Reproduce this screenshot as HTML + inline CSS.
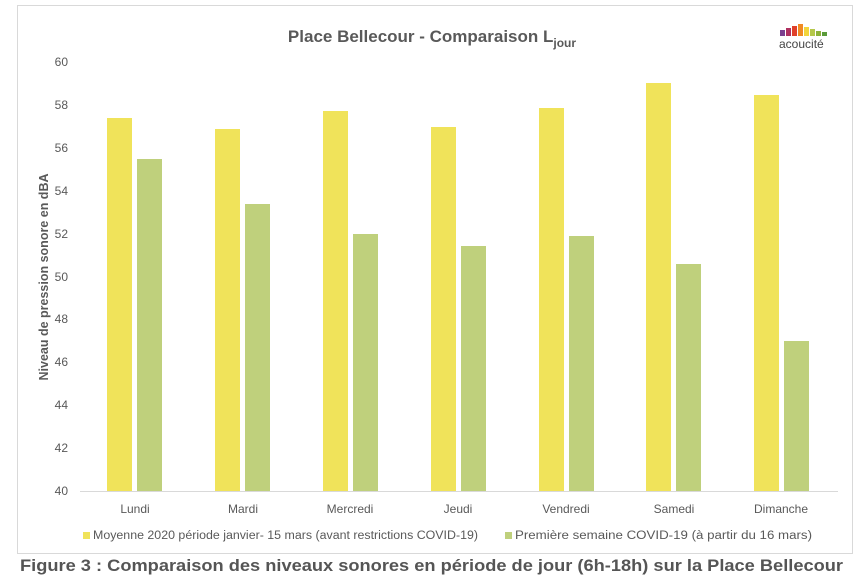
<!DOCTYPE html>
<html><head><style>body{margin:0;background:#fff;}svg{display:block;font-family:"Liberation Sans",sans-serif;}</style></head><body>
<svg width="867" height="585" viewBox="0 0 867 585">
<rect x="17.5" y="5.5" width="835" height="548" fill="#fff" stroke="#d9d9d9"/>
<text x="432" y="42" text-anchor="middle" font-size="17" font-weight="bold" fill="#595959">Place Bellecour - Comparaison L<tspan font-size="12" dy="5">jour</tspan></text>
<g>
<rect x="780" y="30" width="5" height="6" fill="#7b3f8f"/><rect x="786" y="28" width="5" height="8" fill="#b03060"/><rect x="792" y="26" width="5" height="10" fill="#e0402a"/><rect x="798" y="24" width="5" height="12" fill="#f08a24"/><rect x="804" y="27" width="5" height="9" fill="#f2d53c"/><rect x="810" y="29" width="5" height="7" fill="#b5c84a"/><rect x="816" y="31" width="5" height="5" fill="#8db23a"/><rect x="822" y="32" width="5" height="4" fill="#5a9a3a"/>
<text x="779" y="48" font-size="12" fill="#444">acoucité</text>
</g>
<g font-size="12" fill="#595959" text-anchor="end">
<text x="68" y="66">60</text><text x="68" y="109">58</text><text x="68" y="152">56</text><text x="68" y="195">54</text><text x="68" y="238">52</text><text x="68" y="281">50</text><text x="68" y="323">48</text><text x="68" y="366">46</text><text x="68" y="409">44</text><text x="68" y="452">42</text><text x="68" y="495">40</text>
</g>
<text transform="translate(48,277) rotate(-90)" text-anchor="middle" font-size="12.5" font-weight="bold" fill="#595959">Niveau de pression sonore en dBA</text>
<g fill="#f0e35a">
<rect x="107" y="118" width="25" height="373"/>
<rect x="215" y="129" width="25" height="362"/>
<rect x="323" y="111" width="25" height="380"/>
<rect x="431" y="127" width="25" height="364"/>
<rect x="539" y="108" width="25" height="383"/>
<rect x="646" y="83" width="25" height="408"/>
<rect x="754" y="95" width="25" height="396"/>
</g>
<g fill="#bfd07c">
<rect x="137" y="159" width="25" height="332"/>
<rect x="245" y="204" width="25" height="287"/>
<rect x="353" y="234" width="25" height="257"/>
<rect x="461" y="246" width="25" height="245"/>
<rect x="569" y="236" width="25" height="255"/>
<rect x="676" y="264" width="25" height="227"/>
<rect x="784" y="341" width="25" height="150"/>
</g>
<line x1="80" y1="491.5" x2="838" y2="491.5" stroke="#d9d9d9"/>
<g font-size="12" fill="#595959" text-anchor="middle">
<text x="135" y="513">Lundi</text><text x="243" y="513">Mardi</text><text x="350" y="513">Mercredi</text><text x="458" y="513">Jeudi</text><text x="566" y="513">Vendredi</text><text x="674" y="513">Samedi</text><text x="781" y="513">Dimanche</text>
</g>
<rect x="83" y="532" width="7" height="7" fill="#f0e35a"/>
<text x="93" y="539" font-size="11.5" fill="#595959" textLength="385" lengthAdjust="spacingAndGlyphs">Moyenne 2020 période janvier- 15 mars (avant restrictions COVID-19)</text>
<rect x="505" y="532" width="7" height="7" fill="#bfd07c"/>
<text x="515" y="539" font-size="11.5" fill="#595959" textLength="297" lengthAdjust="spacingAndGlyphs">Première semaine COVID-19 (à partir du 16 mars)</text>
<text x="20" y="571" font-size="17" font-weight="bold" fill="#555" textLength="823" lengthAdjust="spacingAndGlyphs">Figure 3 : Comparaison des niveaux sonores en période de jour (6h-18h) sur la Place Bellecour</text>
</svg>
</body></html>
